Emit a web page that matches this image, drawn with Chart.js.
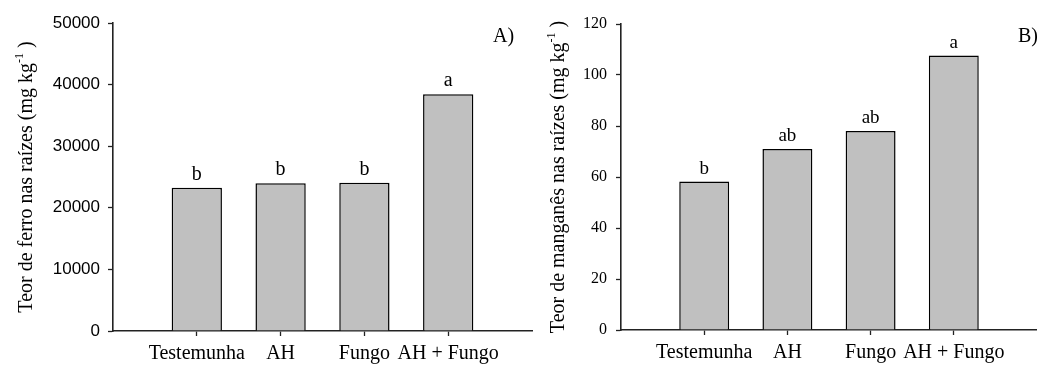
<!DOCTYPE html>
<html><head><meta charset="utf-8">
<script src="https://cdn.jsdelivr.net/npm/chart.js@4/dist/chart.umd.min.js"></script>
<style>
html,body{margin:0;padding:0;background:#fff;width:1037px;height:368px;overflow:hidden;}
#ca{position:absolute;left:0;top:0;}
#cb{position:absolute;left:517px;top:0;}
</style></head><body>
<canvas id="ca" width="540" height="368"></canvas>
<canvas id="cb" width="520" height="368"></canvas>
<script>
const categories = ['Testemunha', 'AH', 'Fungo', 'AH + Fungo'];
const ironValues = [23250, 24000, 24050, 38450];
const ironLetters = ['b', 'b', 'b', 'a'];
const ironTicks = [0, 10000, 20000, 30000, 40000, 50000];
const manganeseValues = [58.2, 71.0, 78.0, 107.6];
const manganeseLetters = ['b', 'ab', 'ab', 'a'];
const manganeseTicks = [0, 20, 40, 60, 80, 100, 120];

const SERIF = '"Liberation Serif", "Times New Roman", serif';
const SANS = '"Liberation Sans", Arial, sans-serif';

const decorPlugin = {
  id: 'decor',
  afterDraw(chart, args, o) {
    const ctx = chart.ctx, ca = chart.chartArea;
    ctx.save();
    ctx.fillStyle = '#000';
    // letters above bars
    ctx.font = o.letterSize + 'px ' + SERIF;
    ctx.textAlign = 'center';
    ctx.textBaseline = 'alphabetic';
    chart.getDatasetMeta(0).data.forEach((bar, i) => {
      ctx.fillText(o.letters[i], bar.x, bar.y - 8);
    });
    // panel label
    ctx.font = '20px ' + SERIF;
    ctx.textAlign = 'left';
    ctx.fillText(o.panel, o.panelX, 41.5);
    // y title with superscript
    const cy = (ca.top + ca.bottom) / 2;
    ctx.translate(o.titleX, cy);
    ctx.rotate(-Math.PI / 2);
    const big = '20px ' + SERIF, small = '12px ' + SERIF;
    ctx.font = big; const w1 = ctx.measureText(o.title).width;
    ctx.font = small; const w2 = ctx.measureText('-1').width;
    ctx.font = big; const w3 = ctx.measureText(' )').width;
    let x = -(w1 + w2 + w3) / 2;
    ctx.fillText(o.title, x, 0); x += w1;
    ctx.font = small; ctx.fillText('-1', x, -9); x += w2;
    ctx.font = big; ctx.fillText(' )', x, 0);
    ctx.restore();
  }
};

function makeChart(id, cfg) {
  return new Chart(document.getElementById(id), {
    type: 'bar',
    data: {
      datasets: [{
        data: cfg.values.map((v, i) => ({ x: i + 1, y: v })),
        backgroundColor: '#c0c0c0',
        borderColor: '#000',
        borderWidth: 1.5,
        barPercentage: 0.6,
        categoryPercentage: 1
      }]
    },
    options: {
      responsive: false,
      animation: false,
      devicePixelRatio: 1,
      layout: { padding: { top: cfg.top, right: cfg.right, left: 0, bottom: 0 } },
      plugins: {
        legend: { display: false },
        tooltip: { enabled: false },
        decor: cfg.decor
      },
      scales: {
        x: {
          type: 'linear', min: 0, max: categories.length + 1, offset: false,
          afterBuildTicks: s => { s.ticks = categories.map((c, i) => ({ value: i + 1 })); },
          ticks: {
            callback: v => categories[Math.round(v) - 1],
            autoSkip: false, maxRotation: 0, minRotation: 0, padding: 6,
            color: '#000', font: { family: SERIF, size: 20 }
          },
          grid: { display: true, offset: false, drawOnChartArea: false, drawTicks: true, tickLength: 5, tickColor: '#222', tickWidth: 1.3 },
          border: { display: true, color: '#222', width: 1.6 },
          afterFit: s => { s.height = cfg.xh; }
        },
        y: {
          min: 0, max: cfg.max,
          afterBuildTicks: s => { s.ticks = cfg.ticks.map(v => ({ value: v })); },
          ticks: { padding: cfg.tickPad, color: '#000', font: cfg.tickFont, callback: v => String(v) },
          grid: { display: true, drawOnChartArea: false, drawTicks: true, tickLength: 5, tickColor: '#222', tickWidth: 1.3 },
          border: { display: true, color: '#222', width: 1.6 },
          afterFit: s => { s.width = cfg.yw; }
        }
      }
    },
    plugins: [decorPlugin]
  });
}

makeChart('ca', {
  values: ironValues, ticks: ironTicks, max: 50000,
  top: 23, right: 8, xh: 37, yw: 113, tickPad: 8,
  tickFont: { family: SANS, size: 17 },
  decor: { letters: ironLetters, letterSize: 20, panel: 'A)', panelX: 493, titleX: 31.5, title: 'Teor de ferro nas raízes (mg kg' }
});
makeChart('cb', {
  values: manganeseValues, ticks: manganeseTicks, max: 120,
  top: 24, right: 0, xh: 38, yw: 104, tickPad: 9,
  tickFont: { family: SERIF, size: 16 },
  decor: { letters: manganeseLetters, letterSize: 19, panel: 'B)', panelX: 501, titleX: 47, title: 'Teor de manganês nas raízes (mg kg' }
});
</script>
</body></html>
